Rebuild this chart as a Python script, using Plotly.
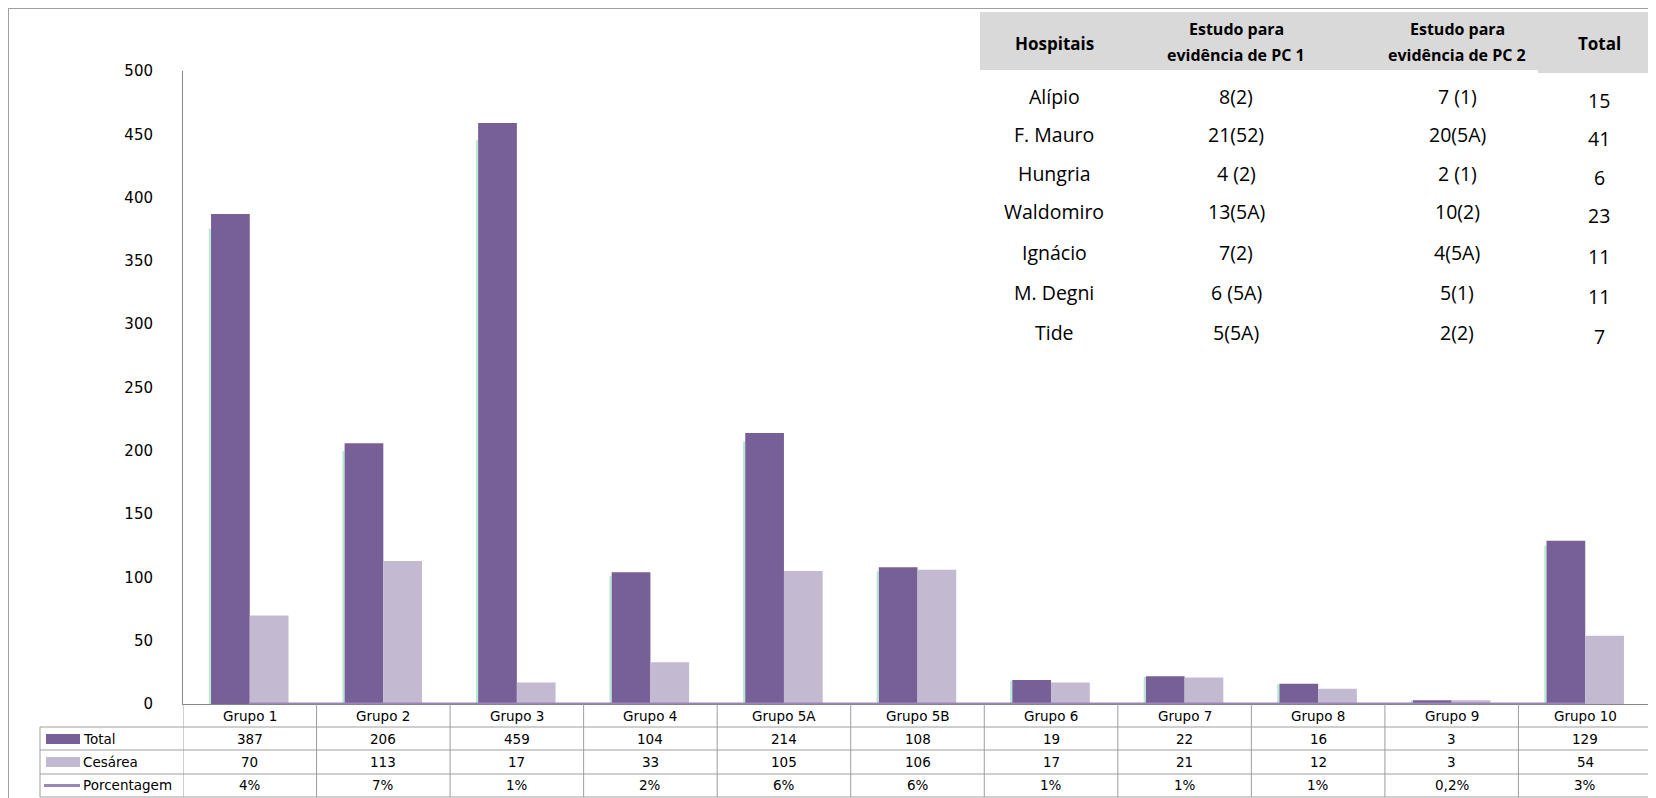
import plotly.graph_objects as go

# ---------------- data ----------------
categories = ["Grupo 1", "Grupo 2", "Grupo 3", "Grupo 4", "Grupo 5A", "Grupo 5B",
              "Grupo 6", "Grupo 7", "Grupo 8", "Grupo 9", "Grupo 10"]
total = [387, 206, 459, 104, 214, 108, 19, 22, 16, 3, 129]
cesarea = [70, 113, 17, 33, 105, 106, 17, 21, 12, 3, 54]
porcentagem = [4, 7, 1, 2, 6, 6, 1, 1, 1, 0.2, 3]  # percent

y_ticks = [0, 50, 100, 150, 200, 250, 300, 350, 400, 450, 500]

hosp_header = ["Hospitais", "Estudo para|evidência de PC 1", "Estudo para|evidência de PC 2", "Total"]
hospitais = ["Alípio", "F. Mauro", "Hungria", "Waldomiro", "Ignácio", "M. Degni", "Tide"]
pc1 = ["8(2)", "21(52)", "4 (2)", "13(5A)", "7(2)", "6 (5A)", "5(5A)"]
pc2 = ["7 (1)", "20(5A)", "2 (1)", "10(2)", "4(5A)", "5(1)", "2(2)"]
hosp_total = [15, 41, 6, 23, 11, 11, 7]

# ---------------- layout geometry (screen pixels) ----------------
OFF = 8                      # page body margin
SW, SH = 1656, 798           # screen size
W, H = SW - OFF, SH - OFF    # figure size
L, R, T, B = 183, 1652, 71, 704   # plot area in screen pixels
BARGAP = 0.42
FONT = "Open Sans"
TFONT = "DejaVu Sans"
C_TOTAL = "#775f97"
C_CES = "#c3b9d0"
C_PCT = "#9a86b8"
C_GRID = "#9e9e9e"
C_GLOW = "#b5ead0"


def xp(px):
    return (px - L) / (R - L)


def yp(py):
    return (B - py) / (B - T)


def pct_label(v):
    return f"{v:g}".replace(".", ",") + "%"


fig = go.Figure()
fig.add_trace(go.Bar(x=categories, y=total, name="Total", marker=dict(color=C_TOTAL, line=dict(width=0))))
fig.add_trace(go.Bar(x=categories, y=cesarea, name="Cesárea", marker=dict(color=C_CES, line=dict(width=0))))
fig.add_trace(go.Scatter(x=categories, y=[v / 100 for v in porcentagem], name="Porcentagem",
                         mode="lines", line=dict(color=C_PCT, width=3), cliponaxis=False))

shapes = []
annotations = []

# subtle glow on the left edge of the Total bars
cat_px = (R - L) / len(categories)
for i, v in enumerate(total):
    xl = i - (1 - BARGAP) / 2 - 1.2 / cat_px
    shapes.append(dict(type="line", xref="x", yref="y", x0=xl, x1=xl, y0=0, y1=v * 0.97,
                       line=dict(color=C_GLOW, width=2), layer="below"))

# ---- outer border ----
shapes.append(dict(type="line", xref="paper", yref="paper", x0=xp(8), x1=xp(8), y0=yp(8), y1=yp(820),
                   line=dict(color="#a0a0a0", width=2)))
shapes.append(dict(type="line", xref="paper", yref="paper", x0=xp(8), x1=xp(1680), y0=yp(8), y1=yp(8),
                   line=dict(color="#a0a0a0", width=2)))

# ---- data table under the chart ----
row_lines = [727, 750, 774, 797]
for ry in row_lines:
    shapes.append(dict(type="line", xref="paper", yref="paper", x0=xp(40), x1=xp(R), y0=yp(ry), y1=yp(ry),
                       line=dict(color=C_GRID, width=1)))
for i in range(len(categories) + 1):
    shapes.append(dict(type="line", xref="x", yref="paper", x0=i - 0.5, x1=i - 0.5, y0=yp(704), y1=yp(797),
                       line=dict(color=C_GRID, width=1)))
shapes.append(dict(type="line", xref="paper", yref="paper", x0=xp(40), x1=xp(40), y0=yp(727), y1=yp(797),
                   line=dict(color=C_GRID, width=1)))

# legend keys
shapes.append(dict(type="rect", xref="paper", yref="paper", x0=xp(46), x1=xp(80), y0=yp(734), y1=yp(744),
                   fillcolor=C_TOTAL, line=dict(width=0)))
shapes.append(dict(type="rect", xref="paper", yref="paper", x0=xp(46), x1=xp(80), y0=yp(757), y1=yp(767),
                   fillcolor=C_CES, line=dict(width=0)))
shapes.append(dict(type="line", xref="paper", yref="paper", x0=xp(44), x1=xp(80), y0=yp(785.5), y1=yp(785.5),
                   line=dict(color=C_PCT, width=3)))

row_y = {"cat": 715.5, "Total": 738.5, "Cesárea": 762, "Porcentagem": 785.5}
tf = dict(family=TFONT, size=13.5, color="#000")
for name in ["Total", "Cesárea", "Porcentagem"]:
    annotations.append(dict(text=name, xref="paper", yref="paper", x=xp(81), y=yp(row_y[name]),
                            xanchor="left", yanchor="middle", showarrow=False, font=tf))

for i, c in enumerate(categories):
    annotations.append(dict(text=c, xref="x", yref="paper", x=c, y=yp(row_y["cat"]), showarrow=False,
                            xanchor="center", yanchor="middle", font=tf))
    annotations.append(dict(text=str(total[i]), xref="x", yref="paper", x=c, y=yp(row_y["Total"]),
                            showarrow=False, xanchor="center", yanchor="middle", font=tf))
    annotations.append(dict(text=str(cesarea[i]), xref="x", yref="paper", x=c, y=yp(row_y["Cesárea"]),
                            showarrow=False, xanchor="center", yanchor="middle", font=tf))
    annotations.append(dict(text=pct_label(porcentagem[i]), xref="x", yref="paper", x=c,
                            y=yp(row_y["Porcentagem"]), showarrow=False, xanchor="center",
                            yanchor="middle", font=tf))

# ---- hospital table (top right) ----
shapes.append(dict(type="rect", xref="paper", yref="paper", x0=xp(980), x1=xp(1538), y0=yp(12), y1=yp(70),
                   fillcolor="#d9d9d9", line=dict(width=0), layer="below"))
shapes.append(dict(type="rect", xref="paper", yref="paper", x0=xp(1538), x1=xp(1680), y0=yp(12), y1=yp(73),
                   fillcolor="#d9d9d9", line=dict(width=0), layer="below"))

col_x = [1054, 1236, 1457, 1599]
for cx, htxt in zip(col_x, hosp_header):
    parts = htxt.split("|")
    if len(parts) == 1:
        annotations.append(dict(text=f"<b>{parts[0]}</b>", xref="paper", yref="paper", x=xp(cx), y=yp(43),
                                showarrow=False, xanchor="center", yanchor="middle",
                                font=dict(family=FONT, size=17, color="#000")))
    else:
        for py, p in zip([29, 55], parts):
            annotations.append(dict(text=f"<b>{p}</b>", xref="paper", yref="paper", x=xp(cx), y=yp(py),
                                    showarrow=False, xanchor="center", yanchor="middle",
                                    font=dict(family=FONT, size=16, color="#000")))

rows_y = [96, 134, 173, 212, 252, 292, 332]
rf = dict(family=FONT, size=19.5, color="#000")
for k in range(len(hospitais)):
    vals = [hospitais[k], pc1[k], pc2[k], str(hosp_total[k])]
    for j, (cx, v) in enumerate(zip(col_x, vals)):
        dy = 4 if j == 3 else 0
        annotations.append(dict(text=v, xref="paper", yref="paper", x=xp(cx), y=yp(rows_y[k] + dy),
                                showarrow=False, xanchor="center", yanchor="middle", font=rf))

fig.update_layout(
    width=W, height=H,
    margin=dict(l=L - OFF, r=W - (R - OFF), t=T - OFF, b=H - (B - OFF), pad=0),
    paper_bgcolor="white", plot_bgcolor="white",
    barmode="group", bargap=BARGAP, bargroupgap=0,
    showlegend=False,
    shapes=shapes, annotations=annotations,
    font=dict(family=FONT, size=13, color="#000"),
)
fig.update_xaxes(type="category", categoryorder="array", categoryarray=categories,
                 range=[-0.5, len(categories) - 0.5], showticklabels=False, showgrid=False,
                 showline=True, linecolor="#868686", linewidth=1, zeroline=False, ticks="")
fig.update_yaxes(range=[0, 500], tickvals=y_ticks, showgrid=False, zeroline=False, showline=True,
                 linecolor="#868686", linewidth=1, ticks="", ticklabelstandoff=26,
                 tickfont=dict(family=TFONT, size=15, color="#000"))

fig.write_html("out.html")
